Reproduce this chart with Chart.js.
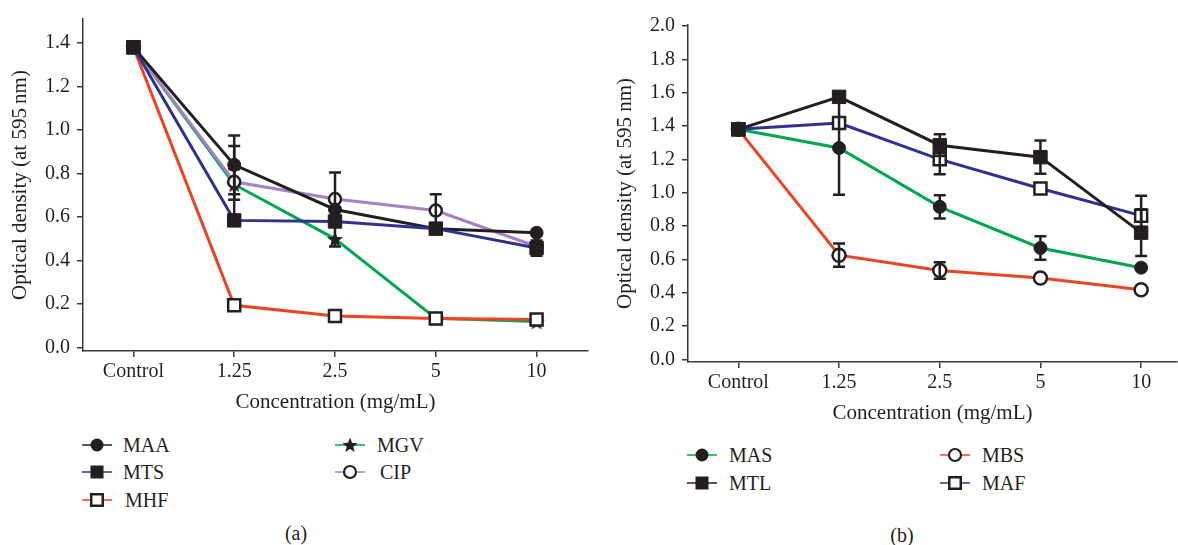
<!DOCTYPE html>
<html>
<head>
<meta charset="utf-8">
<script src="https://cdn.jsdelivr.net/npm/chart.js@4/dist/chart.umd.min.js"></script>
<style>
body { margin: 0; background: #fff; }
#wrap { position: relative; width: 1178px; height: 545px; overflow: hidden; font-family: 'Liberation Serif', serif; color: #231f20; }
#wrap canvas { position: absolute; top: 0; }
.item { position: absolute; font-size: 20px; line-height: 20px; white-space: nowrap; }
.item svg { position: absolute; left: 0; top: -8px; }
.item span { position: absolute; top: -10px; }
.cap { position: absolute; font-size: 20px; line-height: 20px; transform: translateX(-50%); }
</style>
</head>
<body>
<div id="wrap">
  <canvas id="chartA" width="600" height="420" style="left:0"></canvas>
  <canvas id="chartB" width="583" height="431" style="left:605px"></canvas>
  <div class="cap" style="left:296px; top:523px">(a)</div>
  <div class="cap" style="left:902px; top:525px">(b)</div>
</div>
<script>
// categories
var xLabels = ['Control', '1.25', '2.5', '5', '10'];

// panel (a) values
var maa = [1.38, 0.84, 0.635, 0.547, 0.528];
var mts = [1.38, 0.585, 0.58, 0.547, 0.458];
var mhf = [1.38, 0.195, 0.146, 0.134, 0.13];
var mgv = [1.38, 0.75, 0.50, 0.135, 0.12];
var cip = [1.38, 0.762, 0.683, 0.63, 0.465];
// error bars (a)
var maaErr = [0, 0.135, 0.17, 0, 0];
var mtsErr = [0, 0, 0, 0, 0.035];
var mhfErr = [0, 0, 0, 0, 0];
var mgvErr = [0, 0.07, 0, 0, 0];
var cipErr = [0, 0.165, 0, 0.075, 0];

// panel (b) values
var mas = [1.38, 1.268, 0.915, 0.668, 0.55];
var mtl = [1.38, 1.575, 1.285, 1.213, 0.76];
var mbs = [1.38, 0.625, 0.533, 0.488, 0.418];
var maf = [1.38, 1.418, 1.2, 1.025, 0.862];
// error bars (b)
var masErr = [0, 0.28, 0.07, 0.07, 0];
var mtlErr = [0, 0, 0.065, 0.1, 0.14];
var mbsErr = [0, 0.07, 0.05, 0, 0];
var mafErr = [0, 0, 0.09, 0, 0.12];

var ink = '#231f20';
var axisCol = '#3a3a3a';
var black = '#231f20', navy = '#2e3192', red = '#ef4123', green = '#00a651', purple = '#a681c0';

Chart.defaults.font.family = "'Liberation Serif', serif";
Chart.defaults.color = ink;

// filled five point star used as MGV marker
var star = document.createElement('canvas');
star.width = 18; star.height = 18;
(function () {
  var c = star.getContext('2d');
  c.fillStyle = ink;
  c.beginPath();
  for (var i = 0; i < 10; i++) {
    var r = i % 2 ? 3.6 : 8.6;
    var a = -Math.PI / 2 + i * Math.PI / 5;
    c.lineTo(9 + r * Math.cos(a), 9.8 + r * Math.sin(a));
  }
  c.closePath();
  c.fill();
})();

function series(label, values, errs, color, style, radius, fill) {
  return {
    label: label,
    data: values.map(function (v, i) { return { x: i, y: v }; }),
    errors: errs,
    borderColor: color,
    borderWidth: 3,
    pointStyle: style,
    pointRadius: radius,
    pointHoverRadius: radius,
    pointBackgroundColor: fill,
    pointBorderColor: ink,
    pointBorderWidth: fill === ink ? 1 : 2.5
  };
}

var errBars = {
  id: 'errBars',
  afterDatasetsDraw: function (chart) {
    var ctx = chart.ctx, xs = chart.scales.x, ys = chart.scales.y;
    ctx.save();
    ctx.strokeStyle = ink;
    ctx.lineWidth = 2.5;
    chart.data.datasets.forEach(function (ds) {
      (ds.errors || []).forEach(function (e, i) {
        if (!e) return;
        var v = ds.data[i].y;
        var px = xs.getPixelForValue(i);
        var top = ys.getPixelForValue(v + e), bot = ys.getPixelForValue(v - e);
        ctx.beginPath();
        ctx.moveTo(px, top); ctx.lineTo(px, bot);
        ctx.moveTo(px - 6, top); ctx.lineTo(px + 6, top);
        ctx.moveTo(px - 6, bot); ctx.lineTo(px + 6, bot);
        ctx.stroke();
      });
    });
    ctx.restore();
  }
};

function makeOptions(cfg) {
  return {
    responsive: false,
    animation: false,
    events: [],
    devicePixelRatio: 1,
    layout: { padding: { top: cfg.top, right: cfg.right, left: 0, bottom: 0 } },
    plugins: { legend: { display: false }, tooltip: { enabled: false } },
    scales: {
      x: {
        type: 'linear',
        min: -0.5,
        max: cfg.xmax,
        afterFit: function (s) { s.height = 69; },
        border: { color: axisCol, width: 1.5 },
        grid: { drawOnChartArea: false, tickLength: 6, color: axisCol, lineWidth: 1.5 },
        ticks: {
          stepSize: 1, includeBounds: false, autoSkip: false, padding: 3,
          color: ink, font: { size: 20 },
          callback: function (v) { return xLabels[v] !== undefined ? xLabels[v] : ''; }
        },
        title: { display: true, text: 'Concentration (mg/mL)', color: ink, font: { size: 21 }, padding: { top: 0, bottom: 5 } }
      },
      y: {
        min: cfg.ymin,
        max: cfg.ymax,
        afterFit: function (s) { s.width = 83; },
        border: { color: axisCol, width: 1.5 },
        grid: { drawOnChartArea: false, tickLength: 6, color: axisCol, lineWidth: 1.5 },
        ticks: {
          stepSize: 0.2, includeBounds: false, padding: 7,
          color: ink, font: { size: 20 },
          callback: function (v) { return v.toFixed(1); }
        },
        title: { display: true, text: cfg.ytitle, color: ink, font: { size: 21 }, padding: { top: 8, bottom: 0 } }
      }
    }
  };
}

new Chart(document.getElementById('chartA'), {
  type: 'line',
  data: {
    datasets: [
      series('MTS', mts, mtsErr, navy, 'rect', 9.5, ink),
      series('MAA', maa, maaErr, black, 'circle', 6.5, ink),
      series('CIP', cip, cipErr, purple, 'circle', 6, '#fff'),
      series('MHF', mhf, mhfErr, red, 'rect', 8.5, '#fff'),
      series('MGV', mgv, mgvErr, green, star, 8, ink)
    ]
  },
  options: makeOptions({ top: 14, right: 12, xmax: 4.51, ymin: -0.015, ymax: 1.51, ytitle: 'Optical density (at 595\u2009nm)' }),
  plugins: [errBars]
});

new Chart(document.getElementById('chartB'), {
  type: 'line',
  data: {
    datasets: [
      series('MTL', mtl, mtlErr, black, 'rect', 9.5, ink),
      series('MAF', maf, mafErr, navy, 'rect', 8.5, '#fff'),
      series('MAS', mas, masErr, green, 'circle', 6.5, ink),
      series('MBS', mbs, mbsErr, red, 'circle', 6.5, '#fff')
    ]
  },
  options: makeOptions({ top: 25, right: 0, xmax: 4.356, ymin: -0.016, ymax: 2.006, ytitle: 'Optical density (at 595 nm)' }),
  plugins: [errBars]
});

// legends: [label, line colour, marker, line start x, text start x, row y]
var legendItems = [
  ['MAA', black, 'dot', 82, 123, 445],
  ['MTS', navy, 'sq', 82, 123, 472],
  ['MHF', red, 'osq', 82, 125, 500],
  ['MGV', green, 'star', 335, 377, 445],
  ['CIP', purple, 'ocirc', 335, 380, 472],
  ['MAS', green, 'dot', 687, 729, 455],
  ['MTL', black, 'sq', 687, 729, 483],
  ['MBS', red, 'ocirc', 940, 982, 455],
  ['MAF', navy, 'osq', 940, 982, 483]
];

function markerSvg(kind) {
  if (kind === 'dot') return '<circle cx="15" cy="8" r="6.5" fill="' + ink + '"/>';
  if (kind === 'sq') return '<rect x="8.5" y="1.5" width="13" height="13" fill="' + ink + '"/>';
  if (kind === 'osq') return '<rect x="9.25" y="2.25" width="11.5" height="11.5" fill="#fff" stroke="' + ink + '" stroke-width="2.5"/>';
  if (kind === 'ocirc') return '<circle cx="15" cy="8" r="6" fill="#fff" stroke="' + ink + '" stroke-width="2.2"/>';
  var pts = [];
  for (var i = 0; i < 10; i++) {
    var r = i % 2 ? 3.4 : 8;
    var a = -Math.PI / 2 + i * Math.PI / 5;
    pts.push((15 + r * Math.cos(a)).toFixed(2) + ',' + (8.6 + r * Math.sin(a)).toFixed(2));
  }
  return '<polygon points="' + pts.join(' ') + '" fill="' + ink + '"/>';
}

var wrap = document.getElementById('wrap');
legendItems.forEach(function (it) {
  var d = document.createElement('div');
  d.className = 'item';
  d.style.left = it[3] + 'px';
  d.style.top = it[5] + 'px';
  d.innerHTML = '<svg width="30" height="16"><line x1="0" y1="8" x2="30" y2="8" stroke="' + it[1] + '" stroke-width="1.5"/>' +
    markerSvg(it[2]) + '</svg><span style="left:' + (it[4] - it[3]) + 'px">' + it[0] + '</span>';
  wrap.appendChild(d);
});
</script>
</body>
</html>
